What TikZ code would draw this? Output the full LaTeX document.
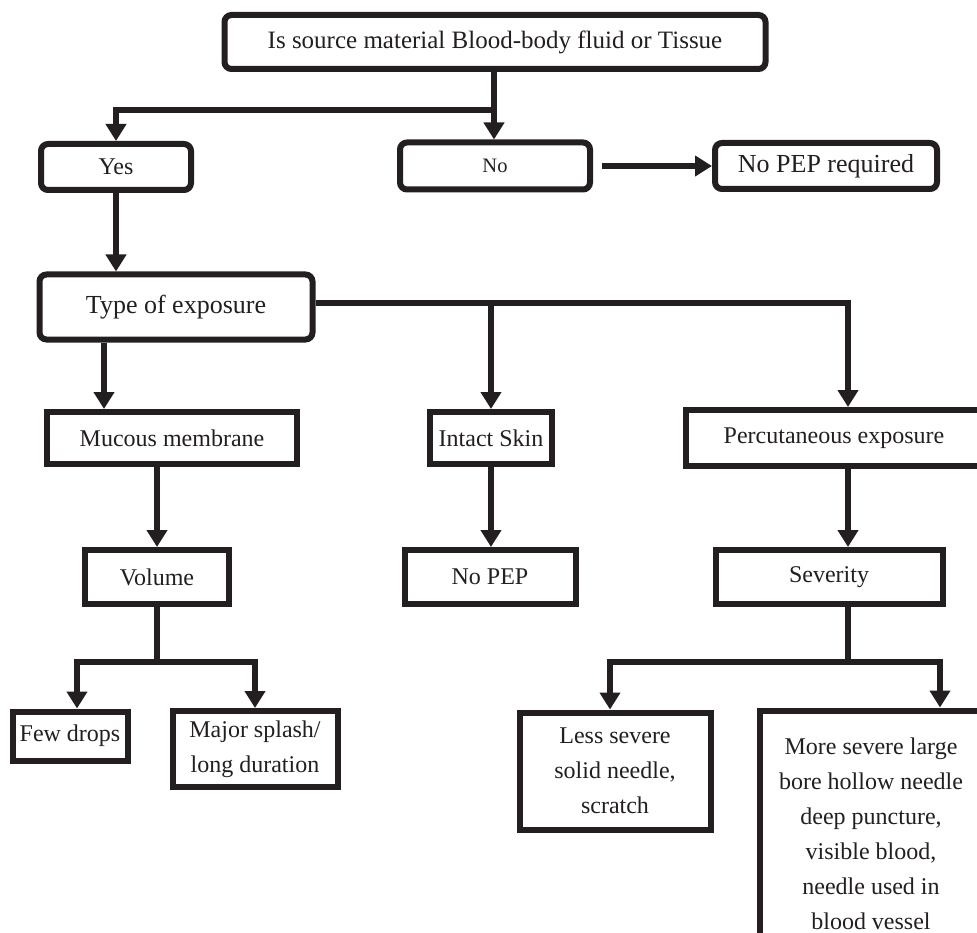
\documentclass[tikz,border=0pt]{standalone}
\usepackage{fontspec}
\setmainfont{Liberation Serif}
\usetikzlibrary{arrows.meta}

\definecolor{ink}{HTML}{231F20}
\newcommand{\txtsize}[1]{\fontsize{#1}{35}\selectfont}

\tikzset{
	box/.style={draw=ink, text=ink, fill=white, line width=6pt, inner sep=0pt, align=center, font=\txtsize{24}},
	rbox/.style={box, rounded corners=7pt},
	link/.style={draw=ink, line width=6pt},
	arr/.style={link, -{Triangle[length=17pt,width=20pt]}},
}

\begin{document}
\begin{tikzpicture}[x=1pt,y=-1pt]
			\useasboundingbox (0,0) rectangle (977,933);
			\clip (0,0) rectangle (977,933);
			% question and answers
			\node[rbox, font=\txtsize{25}, minimum width=541pt, minimum height=54pt] (src) at (495,42) {Is source material Blood-body fluid or Tissue};
			\node[rbox, minimum width=150pt, minimum height=46pt] (yes) at (116,167) {Yes};
			\node[rbox, font=\txtsize{20.5}, minimum width=190pt, minimum height=47pt] (no) at (495,166) {No};
			\node[rbox, font=\txtsize{26}, minimum width=222pt, minimum height=46pt] (npr) at (826,166) {No PEP required};
			\node[rbox, font=\txtsize{26}, minimum width=273pt, minimum height=65pt] (type) at (176,307) {Type of exposure};
			% kinds of exposure
			\node[box, minimum width=250pt, minimum height=52pt] (mm) at (172,438) {Mucous membrane};
			\node[box, minimum width=122pt, minimum height=52pt] (skin) at (491,438) {Intact Skin};
			\node[box, minimum width=297pt, minimum height=56pt] (perc) at (834,438) {Percutaneous exposure};
			\node[box, minimum width=144pt, minimum height=54pt] (vol) at (157,577) {Volume};
			\node[box, minimum width=171pt, minimum height=54pt] (nopep) at (490,577) {No PEP};
			\node[box, minimum width=227pt, minimum height=54pt] (sev) at (829,577) {Severity};
			% outcomes
			\node[box, minimum width=115pt, minimum height=49pt] (few) at (70,736) {Few drops};
			\node[box, minimum width=165pt, minimum height=76pt] (major) at (255,749) {Major splash/\\long duration};
			\node[box, minimum width=191pt, minimum height=117pt] (less) at (615,771) {Less severe\\solid needle,\\scratch};
			\node[box, minimum width=223pt, minimum height=247pt] (more) at (871,834) {More severe large\\bore hollow needle\\deep puncture,\\visible blood,\\needle used in\\blood vessel};
			% connectors
			\coordinate (jtop) at (494,110);
			\coordinate (jtype) at (848,303);
			\coordinate (jvol) at (157,662);
			\coordinate (jsev) at (848,662);
			\draw[arr] (src.south -| jtop) -- (no.north -| jtop);
			\draw[arr] (jtop) -| (yes.north);
			\draw[arr, shorten <=9pt] (no.east) -- (no.east -| npr.west);
			\draw[arr] (yes.south) -- (yes.south |- type.north);
			\draw[arr] (type.east |- jtype) -- (jtype) -- (jtype |- perc.north);
			\draw[arr] (skin.north |- jtype) -- (skin.north);
			\draw[arr] ([xshift=-72pt]type.south) -- ([xshift=-72pt]type.south |- mm.north);
			\draw[arr] (mm.south -| vol.north) -- (vol.north);
			\draw[arr] (skin.south) -- (skin.south |- nopep.north);
			\draw[arr] (perc.south -| jtype) -- (sev.north -| jtype);
			\draw[link] (vol.south) -- (jvol);
			\draw[arr] (jvol) -| ([xshift=7pt]few.north);
			\draw[arr] (jvol) -| (major.north);
			\draw[link] (sev.south -| jsev) -- (jsev);
			\draw[arr] (jsev) -| ([xshift=-5pt]less.north);
			\draw[arr] (jsev) -| ([xshift=69pt]more.north);
		\end{tikzpicture}
\end{document}
